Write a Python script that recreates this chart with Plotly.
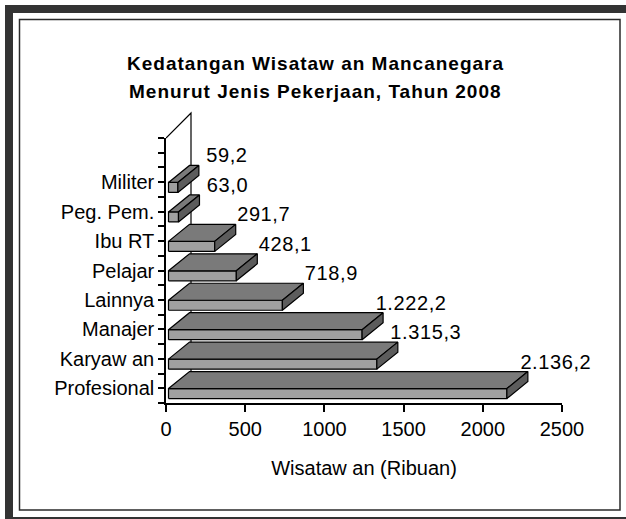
import plotly.graph_objects as go

# ---------------- data ----------------
categories = ["Profesional", "Karyaw an", "Manajer", "Lainnya", "Pelajar",
              "Ibu RT", "Peg. Pem.", "Militer"]
values = [2136.2, 1315.3, 1222.2, 718.9, 428.1, 291.7, 63.0, 59.2]
x_ticks = [0, 500, 1000, 1500, 2000, 2500]
title_lines = ["Kedatangan Wisataw an Mancanegara",
               "Menurut Jenis Pekerjaan, Tahun 2008"]
x_title = "Wisataw an (Ribuan)"

# ---------------- layout geometry / style ----------------
W, H = 626, 519
ML, MR, MT, MB = 166, 64, 138, 116
PW, PH = W - ML - MR, H - MT - MB
X_MAX = 2500
Y_MAX = len(categories) + 1
ux = X_MAX / PW          # data units per pixel (x)
uy = Y_MAX / PH          # data units per pixel (y)

FONT = "Liberation Sans, Arial, sans-serif"
C_FRONT, C_TOP, C_SIDE = "#a0a0a0", "#7a7a7a", "#5c5c5c"
BAR_X0 = 2.5 * ux
BAR_Y0, BAR_Y1 = 0.15, 0.49
DEP_X, DEP_Y = 21 * ux, 17 * uy
WALL_X, WALL_Y = 25 * ux, 25 * uy


def fmt(v):
    s = f"{v:,.1f}"
    return s.replace(",", "#").replace(".", ",").replace("#", ".")


def px2paper(x, y):
    return (x - ML) / PW, (H - MB - y) / PH


front_x, front_y, top_x, top_y, side_x, side_y = [], [], [], [], [], []
for k, v in enumerate(values):
    x0, x1 = BAR_X0, BAR_X0 + v
    yb, yt = k + BAR_Y0, k + BAR_Y1
    front_x += [x0, x1, x1, x0, x0, None]
    front_y += [yb, yb, yt, yt, yb, None]
    top_x += [x0, x1, x1 + DEP_X, x0 + DEP_X, x0, None]
    top_y += [yt, yt, yt + DEP_Y, yt + DEP_Y, yt, None]
    side_x += [x1, x1 + DEP_X, x1 + DEP_X, x1, x1, None]
    side_y += [yb, yb + DEP_Y, yt + DEP_Y, yt, yb, None]

fig = go.Figure()
for xs, ys, col in [(front_x, front_y, C_FRONT), (top_x, top_y, C_TOP),
                    (side_x, side_y, C_SIDE)]:
    fig.add_trace(go.Scatter(x=xs, y=ys, mode="lines", fill="toself",
                             fillcolor=col, line=dict(color="black", width=1.2),
                             hoverinfo="skip", showlegend=False))

# data labels
lab_x = [BAR_X0 + v + DEP_X + 28 * ux for v in values]
lab_y = [k + 1.34 for k in range(len(values))]
fig.add_trace(go.Scatter(x=lab_x, y=lab_y, mode="text",
                         text=[f'<span style="letter-spacing:0.6px">{fmt(v)}</span>'
                               for v in values],
                         textposition="middle center",
                         textfont=dict(family=FONT, size=20, color="black"),
                         cliponaxis=False, hoverinfo="skip", showlegend=False))

y_tickvals = [i * 0.5 for i in range(2 * Y_MAX + 1)]
y_ticktext = []
for t in y_tickvals:
    k = t - 0.5
    if abs(k - round(k)) < 1e-9 and 0 <= round(k) < len(categories):
        y_ticktext.append(categories[int(round(k))])
    else:
        y_ticktext.append("")

shapes = []
# side wall edges (top diagonal + back vertical edge)
shapes.append(dict(type="path", xref="x", yref="paper", layer="below",
                   path=f"M 0,1 L {WALL_X},{(Y_MAX + WALL_Y) / Y_MAX} "
                        f"L {WALL_X},{WALL_Y / Y_MAX}",
                   line=dict(color="black", width=1.2)))
# outer thick frame
ax0, ay0 = px2paper(9, 9)
ax1, ay1 = px2paper(645, 521)
shapes.append(dict(type="rect", xref="paper", yref="paper", x0=ax0, y0=ay0,
                   x1=ax1, y1=ay1, line=dict(color="#333333", width=8)))
bx0, by0 = px2paper(19.5, 19.5)
bx1, by1 = px2paper(620, 510)
shapes.append(dict(type="rect", xref="paper", yref="paper", x0=bx0, y0=by0,
                   x1=bx1, y1=by1, line=dict(color="#2a2a2a", width=1.5)))

annotations = []
for line, ypx in zip(title_lines, [63, 91]):
    xp, yp = px2paper(315, ypx)
    annotations.append(dict(text=f'<b><span style="letter-spacing:1px">{line}</span></b>',
                            xref="paper", yref="paper",
                            x=xp, y=yp, xanchor="center", yanchor="middle",
                            showarrow=False,
                            font=dict(family=FONT, size=19, color="black")))

fig.update_layout(
    width=W, height=H,
    margin=dict(l=ML, r=MR, t=MT, b=MB, pad=0),
    paper_bgcolor="white", plot_bgcolor="rgba(0,0,0,0)",
    shapes=shapes, annotations=annotations,
    xaxis=dict(range=[0, X_MAX], tickvals=x_ticks,
               ticktext=[str(t) for t in x_ticks],
               showgrid=False, zeroline=False, showline=True,
               linecolor="black", linewidth=1.5, ticks="outside",
               ticklen=7, tickwidth=1.5, tickcolor="black",
               ticklabelstandoff=0,
               tickfont=dict(family=FONT, size=20, color="black"),
               title=dict(text=x_title, standoff=22,
                          font=dict(family=FONT, size=20, color="black"))),
    yaxis=dict(range=[0, Y_MAX], tickvals=y_tickvals, ticktext=y_ticktext,
               showgrid=False, zeroline=False, showline=True,
               linecolor="black", linewidth=1.5, ticks="outside",
               ticklen=6, tickwidth=1.5, tickcolor="black",
               ticklabelstandoff=0,
               tickfont=dict(family=FONT, size=20, color="black")),
)

fig.write_html("out.html", config={"displayModeBar": False},
               post_script="document.body.style.margin='0px';"
                           "document.body.style.overflow='hidden';")
